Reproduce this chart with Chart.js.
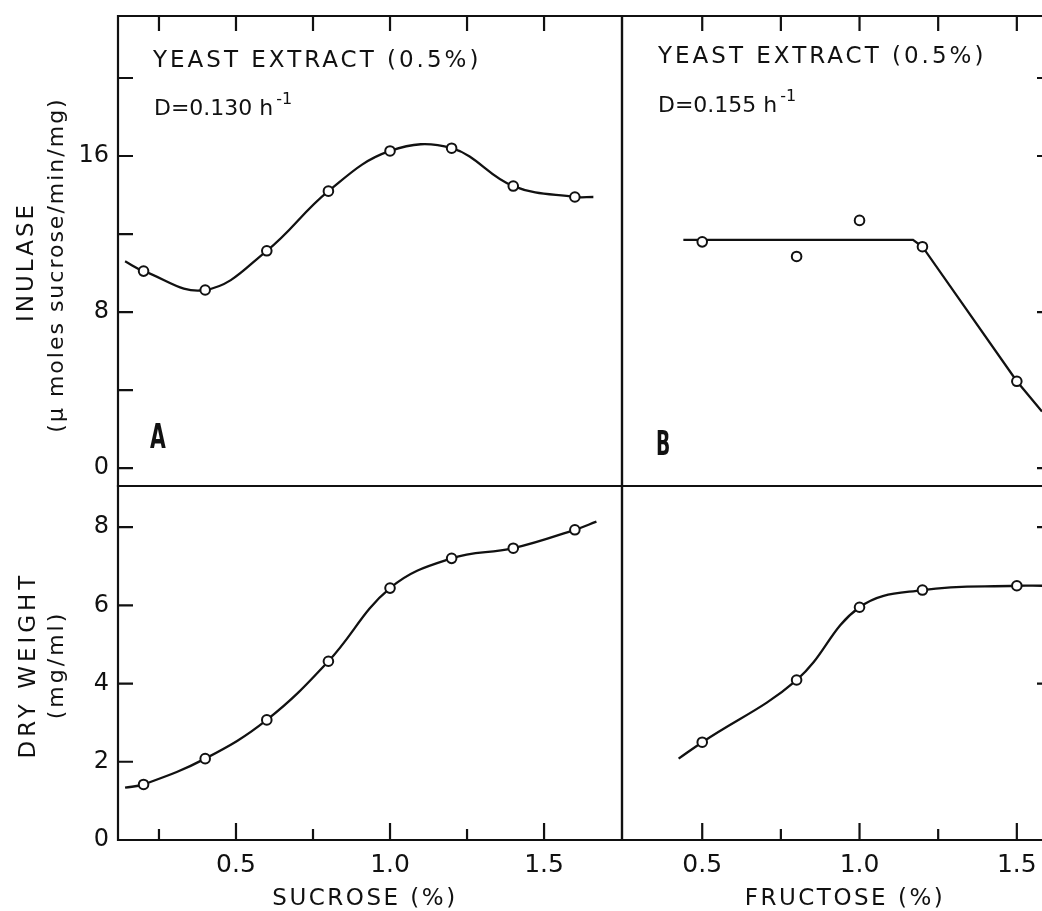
<!DOCTYPE html>
<html>
<head>
  <meta charset="UTF-8">
  <title>Inulase and dry weight in continuous culture</title>
  <script src="https://cdn.jsdelivr.net/npm/chart.js"></script>
  <style>
    html, body {
      margin: 0;
      padding: 0;
      background: #fff;
      overflow: hidden;
    }
    #wrap {
      position: relative;
      width: 1042px;
      height: 911px;
    }
    canvas {
      position: absolute;
      left: 0;
      top: 0;
    }
  </style>
</head>
<body>
  <div id="wrap">
    <canvas id="panelA" width="1042" height="911"></canvas>
    <canvas id="panelB" width="1042" height="911"></canvas>
    <canvas id="panelC" width="1042" height="911"></canvas>
    <canvas id="panelD" width="1042" height="911"></canvas>
  </div>

  <script>
    // measured points
    const sucrose = [0.2, 0.4, 0.6, 0.8, 1.0, 1.2, 1.4, 1.6];
    const inulaseSucrose = [10.1, 9.13, 11.14, 14.2, 16.26, 16.4, 14.46, 13.9];
    const drySucrose = [1.42, 2.08, 3.07, 4.57, 6.44, 7.2, 7.46, 7.93];

    const fructose = [0.5, 0.8, 1.0, 1.2, 1.5];
    const inulaseFructose = [11.6, 10.85, 12.7, 11.35, 4.45];
    const dryFructose = [2.5, 4.09, 5.95, 6.39, 6.5];

    // where the drawn curves start and stop, [x, y]
    const curveEndsA = [[0.14, 10.6], [1.66, 13.9]];
    const curveEndsC = [[0.14, 1.34], [1.67, 8.14]];
    const curveEndsD = [[0.425, 2.08], [1.58, 6.5]];

    // panel B is a straight-line fit
    const fitBx = [0.44, 1.17, 1.2, 1.5, 1.58];
    const fitBy = [11.7, 11.7, 11.35, 4.45, 2.9];

    // tick labels
    const inulaseTicks = [0, 8, 16];
    const dryTicks = [0, 2, 4, 6, 8];
    const concTicks = [0.5, 1.0, 1.5];

    Chart.defaults.font.family = '"DejaVu Sans", sans-serif';
    Chart.defaults.color = '#111';

    const pts = (xs, ys) => xs.map((x, i) => ({ x: x, y: ys[i] }));
    const withEnds = (xs, ys, ends) =>
      [{ x: ends[0][0], y: ends[0][1] }].concat(pts(xs, ys), [{ x: ends[1][0], y: ends[1][1] }]);

    // frame + inward tick marks, drawn with the chart's own scales
    const panelPlugin = {
      id: 'panel',
      afterDraw(chart, args, opts) {
        const ctx = chart.ctx;
        const a = chart.chartArea;
        const xs = chart.scales.x, ys = chart.scales.y;
        ctx.save();
        ctx.strokeStyle = '#111';
        ctx.lineWidth = 2.2;
        ctx.lineCap = 'square';
        ctx.beginPath();
        (opts.edges || []).forEach(e => {
          if (e === 'left') { ctx.moveTo(a.left, a.top); ctx.lineTo(a.left, a.bottom); }
          if (e === 'right') { ctx.moveTo(a.right, a.top); ctx.lineTo(a.right, a.bottom); }
          if (e === 'top') { ctx.moveTo(a.left, a.top); ctx.lineTo(a.right, a.top); }
          if (e === 'bottom') { ctx.moveTo(a.left, a.bottom); ctx.lineTo(a.right, a.bottom); }
        });
        ctx.stroke();
        ctx.lineCap = 'butt';
        ctx.beginPath();
        (opts.ticks || []).forEach(t => {
          t.values.forEach(v => {
            if (t.side === 'left') {
              const y = ys.getPixelForValue(v);
              ctx.moveTo(a.left, y); ctx.lineTo(a.left + t.len, y);
            } else if (t.side === 'right') {
              const y = ys.getPixelForValue(v);
              ctx.moveTo(a.right, y); ctx.lineTo(a.right - t.len, y);
            } else if (t.side === 'top') {
              const x = xs.getPixelForValue(v);
              ctx.moveTo(x, a.top); ctx.lineTo(x, a.top + t.len);
            } else {
              const x = xs.getPixelForValue(v);
              ctx.moveTo(x, a.bottom); ctx.lineTo(x, a.bottom - t.len);
            }
          });
        });
        ctx.stroke();
        ctx.restore();
      }
    };

    // free text: panel notes and axis titles
    const notesPlugin = {
      id: 'notes',
      afterDraw(chart) {
        const ctx = chart.ctx;
        ctx.save();
        ctx.fillStyle = '#111';
        ctx.textBaseline = 'alphabetic';
        const put = (str, x, y, size, o) => {
          o = o || {};
          ctx.save();
          ctx.font = (o.bold ? 'bold ' : '') + size + 'px "DejaVu Sans"';
          ctx.letterSpacing = (o.sp || 0) + 'px';
          ctx.textAlign = o.align || 'left';
          ctx.translate(x, y);
          if (o.rot) ctx.rotate(-Math.PI / 2);
          if (o.sx) ctx.scale(o.sx, 1);
          ctx.fillText(str, 0, 0);
          const w = ctx.measureText(str).width;
          ctx.restore();
          return w;
        };
        const rate = (label, x, y) => {
          const w = put(label, x, y, 22);
          put('-1', x + w + 3, y - 11, 16);
        };

        put('YEAST EXTRACT (0.5%)', 153, 67, 23, { sp: 3 });
        rate('D=0.130 h', 154, 115);
        put('YEAST EXTRACT (0.5%)', 658, 63, 23, { sp: 3 });
        rate('D=0.155 h', 658, 112);

        put('A', 150, 448, 34, { bold: true, sx: 0.6 });
        put('B', 656, 455, 34, { bold: true, sx: 0.55 });

        put('INULASE', 33, 262, 23, { rot: true, align: 'center', sp: 3 });
        put('(\u03bc moles sucrose/min/mg)', 63, 265, 22, { rot: true, align: 'center', sp: 2 });
        put('DRY WEIGHT', 35, 665, 23, { rot: true, align: 'center', sp: 4 });
        put('(mg/ml)', 63, 665, 22, { rot: true, align: 'center', sp: 3 });

        put('SUCROSE (%)', 365, 905, 23, { align: 'center', sp: 2.5 });
        put('FRUCTOSE (%)', 845, 905, 23, { align: 'center', sp: 2.5 });
        ctx.restore();
      }
    };

    const markerSet = (data) => ({
      data: data,
      showLine: false,
      pointRadius: 4.8,
      pointBorderWidth: 2,
      pointBorderColor: '#111',
      pointBackgroundColor: '#fff'
    });
    const lineSet = (data, tension) => ({
      data: data,
      showLine: true,
      tension: tension,
      borderColor: '#111',
      borderWidth: 2.3,
      pointRadius: 0
    });

    // fixed axis boxes so the plot areas land where the panels are
    const Y_W = 60, X_H = 45;
    function fixWidth(s) {
      s.width = s.options.display ? Y_W : 0;
      s.paddingTop = 0; s.paddingBottom = 0;
    }
    function fixHeight(s) {
      s.height = s.options.display ? X_H : 0;
      s.paddingLeft = 0; s.paddingRight = 0;
    }

    function makePanel(id, box, xr, yr, sets, xLabels, yLabels, panelOpts, extra) {
      return new Chart(document.getElementById(id), {
        type: 'scatter',
        data: { datasets: sets },
        options: {
          responsive: false,
          animation: false,
          events: [],
          layout: {
            autoPadding: false,
            padding: {
              left: box[0] - (yLabels ? Y_W : 0),
              top: box[1],
              right: 1042 - box[2],
              bottom: 911 - box[3] - (xLabels ? X_H : 0)
            }
          },
          plugins: {
            legend: { display: false },
            tooltip: { enabled: false },
            panel: panelOpts
          },
          scales: {
            x: {
              type: 'linear',
              min: xr[0], max: xr[1],
              display: !!xLabels,
              grid: { display: false },
              border: { display: false },
              afterFit: fixHeight,
              afterBuildTicks: s => { if (xLabels) s.ticks = xLabels.map(v => ({ value: v })); },
              ticks: {
                padding: 2,
                font: { size: 25 },
                maxRotation: 0,
                autoSkip: false,
                callback: v => v.toFixed(1)
              }
            },
            y: {
              type: 'linear',
              min: yr[0], max: yr[1],
              display: !!yLabels,
              grid: { display: false },
              border: { display: false },
              afterFit: fixWidth,
              afterBuildTicks: s => { if (yLabels) s.ticks = yLabels.map(v => ({ value: v })); },
              ticks: {
                padding: 1,
                font: { size: 24 },
                autoSkip: false,
                callback: v => String(v)
              }
            }
          }
        },
        plugins: [panelPlugin].concat(extra || [])
      });
    }

    const xLeft = [0.117, 1.753];
    const xRight = [0.245, 1.58];
    const yInulase = [-0.92, 23.18];
    const yDry = [0, 9.05];

    makePanel('panelA', [118, 16, 622, 486], xLeft, yInulase, [
      markerSet(pts(sucrose, inulaseSucrose)),
      lineSet(withEnds(sucrose, inulaseSucrose, curveEndsA), 0.4)
    ], null, inulaseTicks, {
      edges: ['left', 'top', 'right', 'bottom'],
      ticks: [
        { side: 'left', values: [0, 4, 8, 12, 16, 20], len: 15 },
        { side: 'top', values: [0.25, 0.5, 0.75, 1.0, 1.25, 1.5], len: 15 }
      ]
    });

    makePanel('panelB', [622, 16, 1042, 486], xRight, yInulase, [
      markerSet(pts(fructose, inulaseFructose)),
      lineSet(pts(fitBx, fitBy), 0)
    ], null, null, {
      edges: ['left', 'top', 'bottom'],
      ticks: [
        { side: 'top', values: [0.5, 0.75, 1.0, 1.25, 1.5], len: 15 },
        { side: 'right', values: [0, 8, 16, 20], len: 5 }
      ]
    });

    makePanel('panelC', [118, 486, 622, 840], xLeft, yDry, [
      markerSet(pts(sucrose, drySucrose)),
      lineSet(withEnds(sucrose, drySucrose, curveEndsC), 0.4)
    ], concTicks, dryTicks, {
      edges: ['left', 'top', 'right', 'bottom'],
      ticks: [
        { side: 'left', values: [0, 2, 4, 6, 8], len: 15 },
        { side: 'bottom', values: [0.5, 1.0, 1.5], len: 17 },
        { side: 'bottom', values: [0.25, 0.75, 1.25], len: 11 }
      ]
    });

    makePanel('panelD', [622, 486, 1042, 840], xRight, yDry, [
      markerSet(pts(fructose, dryFructose)),
      lineSet(withEnds(fructose, dryFructose, curveEndsD), 0.4)
    ], concTicks, null, {
      edges: ['left', 'top', 'bottom'],
      ticks: [
        { side: 'bottom', values: [0.5, 1.0, 1.5], len: 17 },
        { side: 'bottom', values: [0.75, 1.25], len: 11 },
        { side: 'right', values: [4, 8], len: 5 }
      ]
    }, [notesPlugin]);
  </script>
</body>
</html>
